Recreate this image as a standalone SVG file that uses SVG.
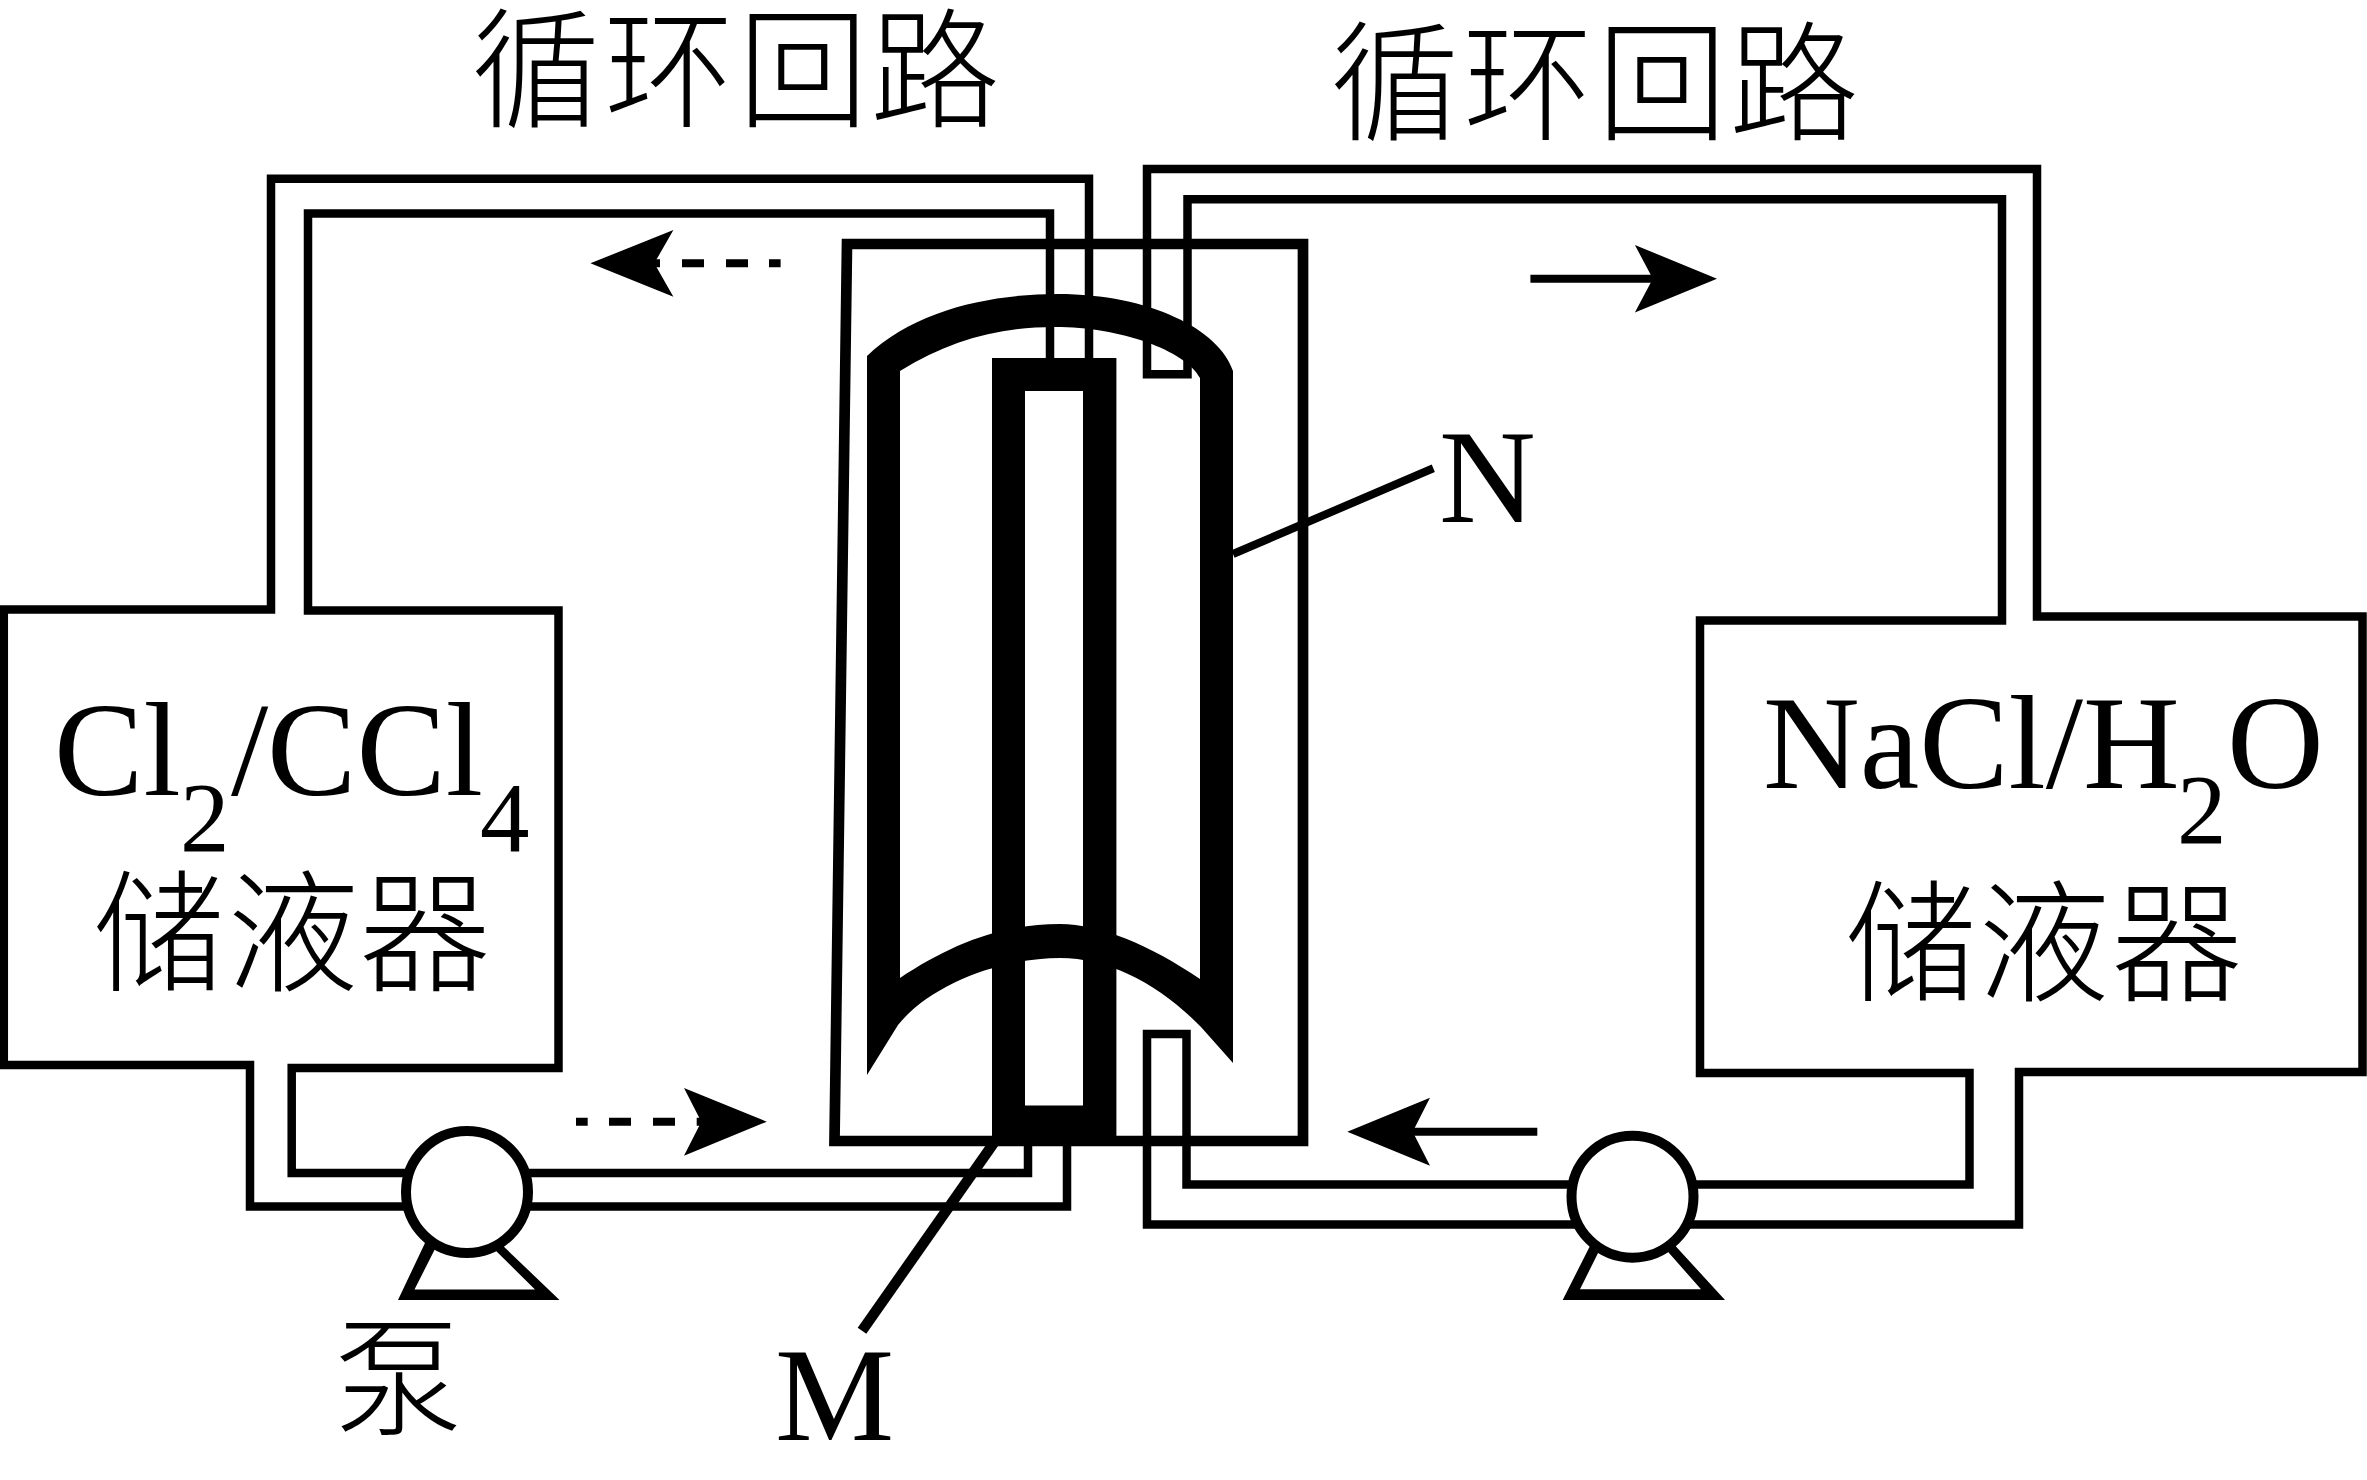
<svg xmlns="http://www.w3.org/2000/svg" width="2367" height="1480" viewBox="0 0 2367 1480">
<style>
.p{fill:none;stroke:#000;stroke-width:8.5;stroke-linejoin:miter}
.t{fill:none;stroke:#000;stroke-width:8}
.s{fill:#000;fill-rule:evenodd;stroke:none}
.c{fill:#fff;stroke:#000;stroke-width:10}
.l{font-family:"Liberation Serif","Noto Sans CJK SC",serif;font-size:134px;fill:#000}
.b{font-size:99px}
.z{font-family:"Noto Sans CJK SC",sans-serif;font-size:132px;font-weight:300;fill:#000}
.h{font-size:130px}
</style>
<rect width="2367" height="1480" fill="#fff"/>
<g id="connectors">
<path id="left-loop" class="p" d="M1050,358V213.500H308V610.500H558.500V1068H291.700V1173H1028V1146M1067,1146V1206.500H250V1065H3.800V609.500H271V178.700H1089V358"/>
<path id="right-loop" class="p" d="M1147,374.300V169H2037V616.400H2362.500V1072H2019V1224.500H1147V1034H1186.500V1184.500H1969.500V1073H1700V620.500H2002V199.300H1187.500V374.300Z"/>
<path id="n-leader" class="t" d="M1233,554L1433.300,468.300"/>
<path id="m-leader" class="p" style="stroke-width:10.500" d="M862,1330.800L998,1137"/>
<path id="arrow-tl-dash" class="t" d="M660,263.300H640M682,263.300H704M726,263.300H748M769,263.300H780.600"/>
<path id="arrow-tl" class="s" d="M590.400,263.300L673.400,230L654.300,263.300L673.400,296.700Z"/>
<path id="arrow-bl-dash" class="t" d="M576,1121.700H587.700M609,1121.700H631M653,1121.700H675M696.700,1121.700H715"/>
<path id="arrow-bl" class="s" d="M766.700,1121.700L684,1088L701.300,1121.700L684,1155.700Z"/>
<path id="arrow-tr-line" class="t" d="M1530.400,278.700H1660"/>
<path id="arrow-tr" class="s" d="M1717,278.700L1634.900,245L1652.800,278.700L1634.900,312.400Z"/>
<path id="arrow-br-line" class="t" d="M1537.300,1131.700H1405"/>
<path id="arrow-br" class="s" d="M1347.300,1131.700L1430,1097.700L1412.700,1131.700L1430,1165.700Z"/>
</g>
<g id="cell">
<path id="cell-box" class="p" style="stroke-width:10.700" d="M847,244H1303V1141H834.500Z"/>
<path id="membrane-N" class="s" d="M867,356C915,310 990,294 1058,294C1150,294 1220,330 1233,371V1063L1201,1027C1160,985 1110,958 1060,958C1000,958 930,985 898,1025L867,1075ZM900,371C950,340 1000,327 1055,327C1120,327 1185,350 1200,378V979C1150,945 1100,924 1060,924C1000,924 950,945 900,978Z"/>
<path id="electrode-M" class="s" d="M992,358H1116.400V1146H992ZM1025,391V1105.400H1083V391Z"/>
</g>
<g id="pump-left">
<path class="s" d="M398,1300H559.500L500,1243H425ZM414.500,1289.500H535L490,1245H437Z"/>
<circle class="c" cx="467" cy="1192" r="61"/>
</g>
<g id="pump-right">
<path class="s" d="M1562.700,1300H1725L1670,1240H1593ZM1580,1289.300H1701L1662,1245H1602Z"/>
<circle class="c" cx="1632.500" cy="1196.700" r="61"/>
</g>
<g id="title-left"><text class="z h" x="471 604 738 870" y="116.500">循环回路</text></g>
<g id="title-right"><text class="z h" x="1330 1463 1597 1729" y="129.500">循环回路</text></g>
<g id="tank-left">
<text class="l" y="795"><tspan x="54">Cl</tspan><tspan class="b" x="180" y="851">2</tspan><tspan x="231" y="795">/</tspan><tspan x="267">CCl</tspan><tspan class="b" x="480" y="851">4</tspan></text>
<text class="z" x="93 227 359" y="981">储液器</text>
</g>
<g id="tank-right">
<text class="l" y="788"><tspan x="1763">NaCl/H</tspan><tspan class="b" x="2177" y="843">2</tspan><tspan x="2227" y="788">O</tspan></text>
<text class="z" x="1845 1978 2111" y="991">储液器</text>
</g>
<g id="label-pump"><text class="z h" x="333" y="1424.500">泵</text></g>
<g id="label-N"><text class="l" x="1439" y="522">N</text></g>
<g id="label-M"><text class="l" x="775" y="1439.500">M</text></g>
</svg>
